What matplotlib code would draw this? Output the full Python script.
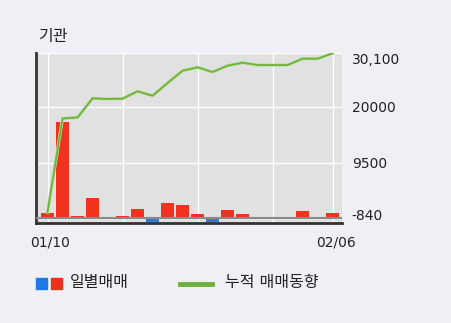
import matplotlib
matplotlib.use('agg')
import matplotlib.pyplot as plt
import matplotlib.patheffects as pe
import matplotlib.transforms as mtransforms
from matplotlib.patches import Rectangle
from matplotlib.lines import Line2D

plt.rcParams['font.family'] = ['DejaVu Sans', 'Noto Sans CJK KR']

# 일별 매매 (기관), 누적 매매동향
days = list(range(20))
daily = [885, 18070, 320, 3760, 0, 320, 1690, -750, 2820, 2390,
         700, -750, 1500, 700, -300, 0, 0, 1320, 0, 940]
cumul = [180, 17830, 18020, 21630, 21500, 21560, 22950, 22120, 24510, 26825,
         27465, 26580, 27766, 28331, 27898, 27898, 27898, 29084, 29084, 30100]
date_ticks = [0, 5, 10, 15, 19]
date_labels = ['01/10', '', '', '', '02/06']
y_ticks = [-840, 9500, 20000, 30100]
y_labels = ['-840', '9500', '20000', '30,100']
BASE = -840

BG = '#eef0f4'
RED = '#f0321e'
BLUE = '#2a7ad6'
GREEN = '#6fb33e'

fig = plt.figure(figsize=(4.51, 3.23), dpi=100, facecolor=BG)
W, H = 451, 323
ax = fig.add_axes([36 / W, 1 - 223 / H, (342 - 36) / W, (223 - 53.3) / H])
ax.set_facecolor('#e1e1e1')

colors = [RED if v >= 0 else BLUE for v in daily]
ax.bar(days, daily, width=0.87, bottom=BASE, color=colors, zorder=2)
ax.axhline(BASE, color='#8a8a8a', lw=1.5, zorder=3)
ax.plot(days, cumul, color=GREEN, lw=1.3, zorder=4,
        path_effects=[pe.Stroke(linewidth=2.3, foreground='#b9dc97'), pe.Normal()])

ax.set_xlim(-0.77, 19.63)
ax.set_ylim(-1837, 30100)

ax.set_xticks(date_ticks)
ax.set_xticklabels(date_labels)
ax.set_yticks(y_ticks)
ax.set_yticklabels(y_labels)
ax.yaxis.tick_right()
ax.tick_params(axis='both', length=0, labelsize=10, colors='#222222')
ax.tick_params(axis='y', pad=7)
ax.tick_params(axis='x', pad=9)
ax.grid(True, color='white', lw=1)
ax.set_axisbelow(True)

# 위아래 라벨 위치 살짝 보정
lbls = ax.get_yticklabels()
lbls[-1].set_transform(lbls[-1].get_transform() +
                       mtransforms.ScaledTranslation(0, -5 / 100, fig.dpi_scale_trans))
lbls[0].set_transform(lbls[0].get_transform() +
                      mtransforms.ScaledTranslation(0, 3 / 100, fig.dpi_scale_trans))
for t in ax.get_xticklabels():
    t.set_transform(t.get_transform() +
                    mtransforms.ScaledTranslation(3 / 100, 0, fig.dpi_scale_trans))

for s in ['top', 'right']:
    ax.spines[s].set_visible(False)
for s in ['left', 'bottom']:
    ax.spines[s].set_color('#333333')
    ax.spines[s].set_linewidth(2)

fig.text(38 / W, 1 - 37 / H, '기관', fontsize=11.5, va='center', color='#222222')

# 범례
fig.patches.append(Rectangle((36 / W, 1 - 289 / H), 11 / W, 11 / H,
                             transform=fig.transFigure, color='#1e78e6'))
fig.patches.append(Rectangle((51 / W, 1 - 289 / H), 11 / W, 11 / H,
                             transform=fig.transFigure, color='#e8321e'))
fig.text(70 / W, 1 - 283 / H, '일별매매', fontsize=11.5, va='center', color='#222222')
fig.lines.append(Line2D([180 / W, 212 / W], [1 - 283.5 / H] * 2,
                        transform=fig.transFigure, color=GREEN, lw=3.5))
fig.text(225 / W, 1 - 283 / H, '누적 매매동향', fontsize=11.5, va='center', color='#222222')

fig.savefig('out.png', dpi=100, facecolor=BG)
plt.close(fig)
